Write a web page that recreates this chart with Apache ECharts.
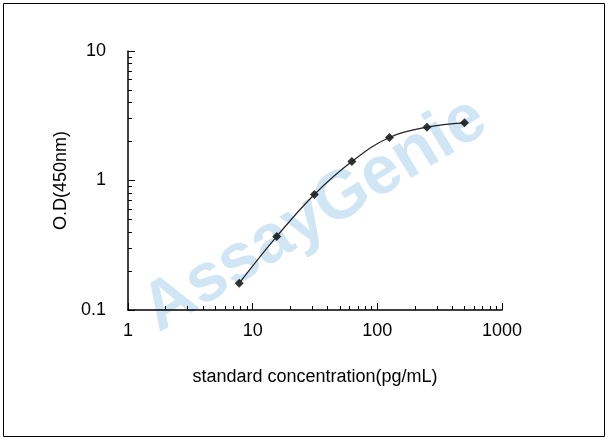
<!DOCTYPE html>
<html><head><meta charset="utf-8">
<script src="https://cdn.jsdelivr.net/npm/echarts@6/dist/echarts.min.js"></script>
<style>html,body{margin:0;padding:0;background:#fff}#c{width:608px;height:441px}</style>
</head><body><div id="c"></div>
<script>
const concentrations = [7.8, 15.6, 31.25, 62.5, 125, 250, 500];
const odValues = [0.161, 0.37, 0.78, 1.40, 2.15, 2.58, 2.79];
const xTickLabels = ['1', '10', '100', '1000'];
const yTickLabels = ['0.1', '1', '10'];
const pts = concentrations.map((c, i) => [c, odValues[i]]);
const chart = echarts.init(document.getElementById('c'));
const axisFont = {fontFamily: 'Liberation Sans, Arial', fontSize: 18, color: '#000'};
chart.setOption({
  animation: false,
  graphic: [
    {type: 'rect', shape: {x: 3.5, y: 3.5, width: 601, height: 433}, style: {fill: 'none', stroke: '#000', lineWidth: 1}},
    {type: 'text', x: 315, y: 215, rotation: 0.55, z: -1, style: {text: 'AssayGenie', font: 'bold 68px Liberation Sans, Arial', fill: 'rgba(150,200,230,0.45)', align: 'center', verticalAlign: 'middle'}}
  ],
  grid: {left: 128, right: 106, top: 51, bottom: 131},
  xAxis: {
    type: 'log', logBase: 10, min: 1, max: 1000,
    name: 'standard concentration(pg/mL)', nameLocation: 'middle', nameGap: 58,
    nameTextStyle: axisFont,
    axisLine: {lineStyle: {color: '#000', width: 1.5}},
    axisTick: {inside: true, length: 7, lineStyle: {color: '#000'}},
    minorTick: {show: true, splitNumber: 9, length: 4, lineStyle: {color: '#000'}},
    axisLabel: {...axisFont, margin: 12, formatter: v => xTickLabels.includes(String(v)) ? String(v) : ''},
    splitLine: {show: false}
  },
  yAxis: {
    type: 'log', logBase: 10, min: 0.1, max: 10,
    name: 'O.D(450nm)', nameLocation: 'middle', nameGap: 34, nameRotate: 90,
    nameTextStyle: axisFont,
    axisLine: {show: true, lineStyle: {color: '#000', width: 1.5}},
    axisTick: {inside: true, length: 7, lineStyle: {color: '#000'}},
    minorTick: {show: true, splitNumber: 9, length: 4, lineStyle: {color: '#000'}},
    axisLabel: {...axisFont, margin: 22, formatter: v => { const s = String(+v.toPrecision(3)); return yTickLabels.includes(s) ? s : ''; }},
    splitLine: {show: false}
  },
  series: [
    {type: 'line', data: pts, smooth: 0.4, showSymbol: false, lineStyle: {color: '#222', width: 1.2}},
    {type: 'scatter', data: pts, symbol: 'diamond', symbolSize: 9, itemStyle: {color: '#000'}}
  ]
});
</script></body></html>
